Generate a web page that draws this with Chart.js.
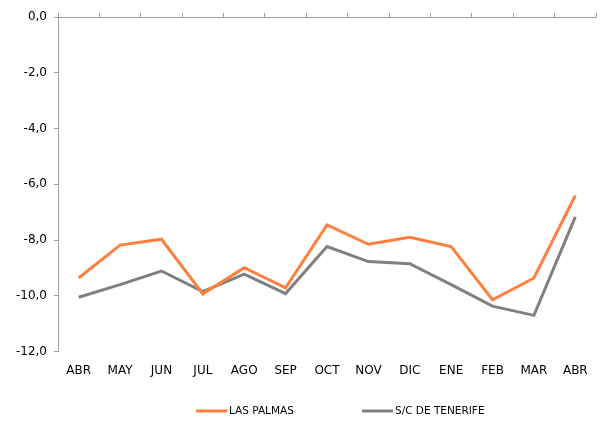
<!DOCTYPE html>
<html lang="es">
<head>
  <meta charset="UTF-8">
  <title>Las Palmas / S/C de Tenerife</title>
  <script src="https://cdn.jsdelivr.net/npm/chart.js"></script>
  <style>
    html, body { margin: 0; padding: 0; background: #fff; }
    #wrap { width: 600px; height: 423px; }
  </style>
</head>
<body>
  <div id="wrap"><canvas id="chart"></canvas></div>
  <script>
    const meses = ['ABR', 'MAY', 'JUN', 'JUL', 'AGO', 'SEP', 'OCT', 'NOV', 'DIC', 'ENE', 'FEB', 'MAR', 'ABR'];
    const lasPalmas = [-9.36, -8.18, -7.97, -9.93, -8.99, -9.71, -7.46, -8.15, -7.90, -8.23, -10.14, -9.36, -6.40];
    const tenerife = [-10.05, -9.60, -9.11, -9.85, -9.22, -9.92, -8.23, -8.77, -8.85, -9.60, -10.37, -10.70, -7.17];

    const fuente = "'DejaVu Sans', Verdana, sans-serif";

    // leyenda propia: linea corta + texto, como en el original
    const leyenda = {
      id: 'leyenda',
      afterDraw(chart) {
        const ctx = chart.ctx;
        const y = 411;
        let x = 196;
        ctx.save();
        ctx.font = '10.5px ' + fuente;
        ctx.textBaseline = 'middle';
        chart.data.datasets.forEach(ds => {
          ctx.strokeStyle = ds.borderColor;
          ctx.lineWidth = 3;
          ctx.beginPath();
          ctx.moveTo(x, y);
          ctx.lineTo(x + 31, y);
          ctx.stroke();
          ctx.fillStyle = '#000';
          ctx.fillText(ds.label, x + 33, y);
          x += 166;
        });
        ctx.restore();
      }
    };

    new Chart(document.getElementById('chart'), {
      type: 'line',
      data: {
        labels: meses,
        datasets: [{
          label: 'LAS PALMAS',
          data: lasPalmas,
          borderColor: '#ff7f3f',
          backgroundColor: '#ff7f3f',
          borderWidth: 3,
          pointRadius: 0,
          tension: 0
        }, {
          label: 'S/C DE TENERIFE',
          data: tenerife,
          borderColor: '#808080',
          backgroundColor: '#808080',
          borderWidth: 3,
          pointRadius: 0,
          tension: 0
        }]
      },
      options: {
        responsive: true,
        maintainAspectRatio: false,
        animation: false,
        layout: { padding: { top: 13, right: 4, left: 0, bottom: 41 } },
        scales: {
          x: {
            position: 'bottom',
            offset: true,
            border: { display: false },
            grid: { display: false },
            ticks: { color: '#000', font: { family: fuente, size: 12 }, padding: 4, maxRotation: 0, autoSkip: false }
          },
          xTop: {
            position: 'top',
            type: 'category',
            offset: true,
            border: { display: true, color: '#a0a0a0', width: 1 },
            grid: { drawOnChartArea: false, offset: true, tickLength: 4, color: '#a0a0a0' },
            ticks: { display: false }
          },
          y: {
            min: -12,
            max: 0,
            border: { color: '#a0a0a0', width: 1 },
            grid: { drawOnChartArea: false, tickLength: 4, color: '#a0a0a0' },
            ticks: {
              stepSize: 2,
              color: '#000',
              padding: 7,
              font: { family: fuente, size: 12 },
              callback: v => v.toFixed(1).replace('.', ',')
            },
            afterFit: s => { s.width = 58; }
          }
        },
        plugins: {
          legend: { display: false },
          tooltip: { enabled: false }
        }
      },
      plugins: [leyenda]
    });
  </script>
</body>
</html>
